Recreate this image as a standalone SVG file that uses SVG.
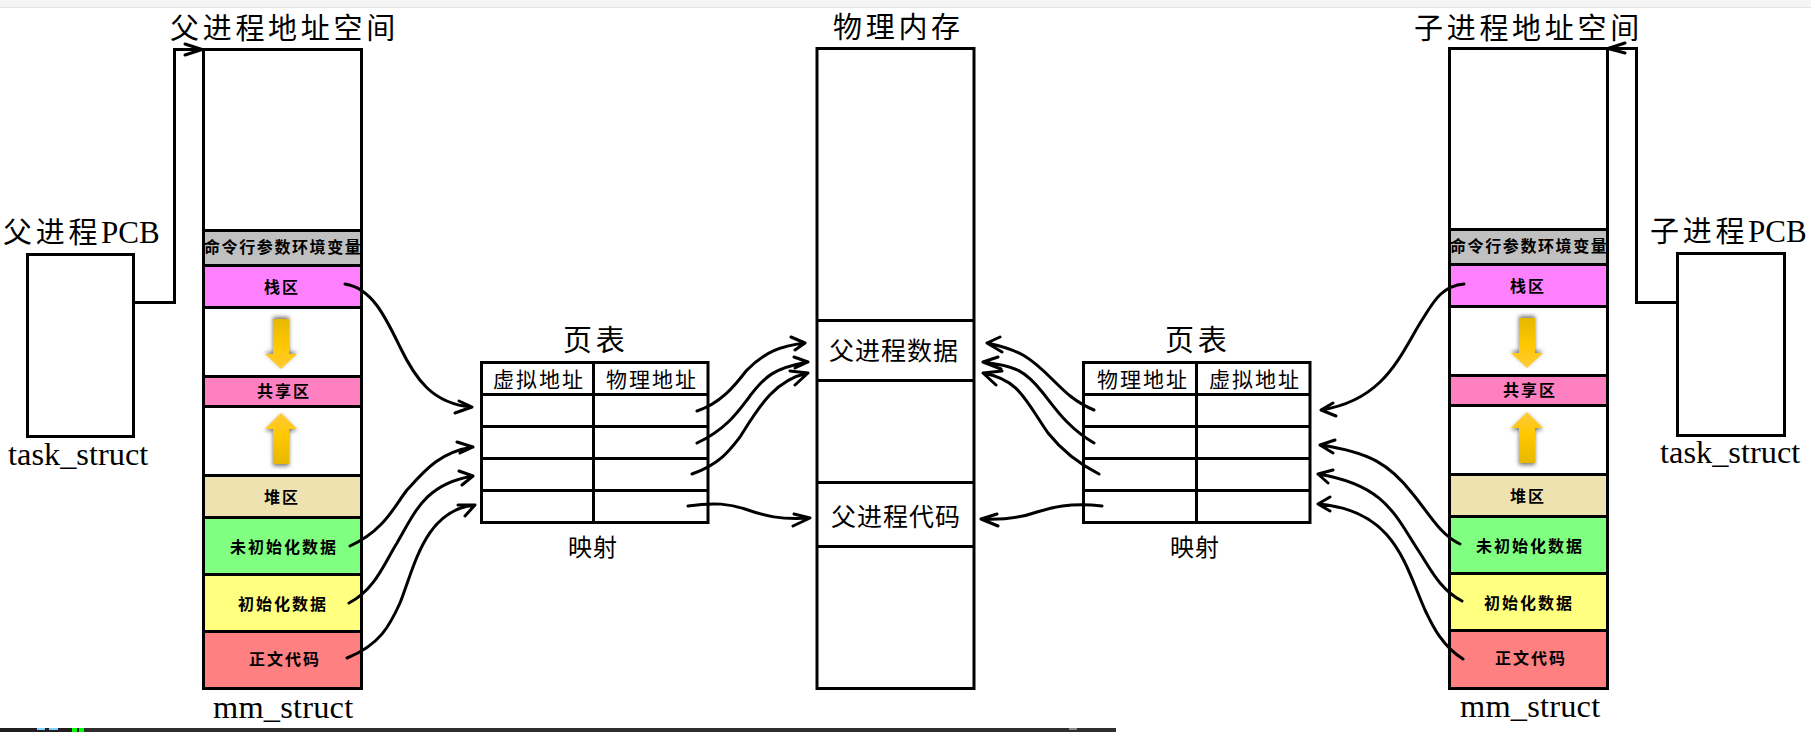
<svg xmlns="http://www.w3.org/2000/svg" width="1811" height="732" viewBox="0 0 1811 732">
<style>
text{fill:#000;font-family:"Noto Sans CJK SC","Liberation Serif",sans-serif}
.box{fill:#fff;stroke:#000;stroke-width:3}
.row{stroke:#000;stroke-width:3}
.ln{stroke:#000;stroke-width:3;fill:none}
.conn{stroke:#000;stroke-width:3;fill:none;stroke-linecap:round;stroke-linejoin:round}
.elbow{stroke:#000;stroke-width:3;fill:none}
.t29{font-size:29px;letter-spacing:3.7px}
.t25{font-size:25px;letter-spacing:1px}
.t24{font-size:24px;letter-spacing:1px}
.t21{font-size:21px;letter-spacing:2px}
.s{font-size:16px;font-weight:700;letter-spacing:2px}
.s9{font-size:16px;font-weight:700;letter-spacing:1.6px}
.lat{font-family:"Liberation Serif",serif;font-size:32.4px;letter-spacing:0}
.mm{font-family:"Liberation Serif",serif;font-size:32.4px;letter-spacing:.2px}
.pcb{font-family:"Liberation Serif",serif;font-size:31px;letter-spacing:0}
.gray{fill:#c0c0c0}.stack{fill:#ff80ff}.share{fill:#ff80c0}.heap{fill:#eee3b0}.bss{fill:#80ff80}.data{fill:#ffff80}.code{fill:#ff8080}
</style>
<defs>
<linearGradient id="gd" x1="0" y1="0" x2="0" y2="1"><stop offset="0" stop-color="#e6b800"/><stop offset=".55" stop-color="#ffc800"/><stop offset="1" stop-color="#ffca3a"/></linearGradient>
<linearGradient id="gu" x1="0" y1="1" x2="0" y2="0"><stop offset="0" stop-color="#e6b800"/><stop offset=".55" stop-color="#ffc800"/><stop offset="1" stop-color="#ffca3a"/></linearGradient>
<filter id="sd" x="-30%" y="-20%" width="160%" height="140%"><feDropShadow dx="0" dy="-2" stdDeviation="2" flood-color="#000" flood-opacity=".55"/></filter>
<filter id="su" x="-30%" y="-20%" width="160%" height="140%"><feDropShadow dx="0" dy="2" stdDeviation="2" flood-color="#000" flood-opacity=".55"/></filter>
</defs>
<rect width="1811" height="732" fill="#fff"/>
<rect width="1811" height="7" fill="#f5f5f5"/>
<rect y="7" width="1811" height="1" fill="#e2e2e2"/>
<g id="terminal-strip">
<rect y="728" width="1116" height="4" fill="#2e2e2e"/>
<rect y="728" width="84" height="4" fill="#1f1f1f"/>
<rect x="37" y="728" width="8" height="2" fill="#7fd0ff"/>
<rect x="49" y="728" width="9" height="2" fill="#7fd0ff"/>
<rect x="72" y="728" width="5" height="4" fill="#00ff00"/>
<rect x="79" y="728" width="5" height="4" fill="#00ff00"/>
<rect x="1069" y="728" width="8" height="2" fill="#8a8a8a"/>
</g>

<g id="parent-pcb">
<rect class="box" x="27.5" y="254.5" width="106" height="182"/>
<text x="3" y="243" class="t29">父进程<tspan class="pcb">PCB</tspan></text>
<text x="8" y="465" class="lat">task_struct</text>
</g>

<g id="parent-space">
<rect class="box" x="203.5" y="49.5" width="158" height="639"/>
<text x="170" y="39" class="t29">父进程地址空间</text>
<rect class="gray row" x="203.5" y="230.5" width="158" height="35"/>
<text x="204" y="253" class="s9">命令行参数环境变量</text>
<rect class="stack row" x="203.5" y="265.5" width="158" height="42"/>
<text x="264" y="293" class="s">栈区</text>
<rect class="share row" x="203.5" y="376.5" width="158" height="30"/>
<text x="257" y="397" class="s">共享区</text>
<rect class="heap row" x="203.5" y="475.5" width="158" height="42"/>
<text x="264" y="503" class="s">堆区</text>
<rect class="bss row" x="203.5" y="517.5" width="158" height="57"/>
<text x="230" y="553" class="s">未初始化数据</text>
<rect class="data row" x="203.5" y="574.5" width="158" height="57"/>
<text x="238" y="610" class="s">初始化数据</text>
<rect class="code row" x="203.5" y="631.5" width="158" height="57"/>
<text x="249" y="665" class="s">正文代码</text>
<path d="M273 319H289V354H297L281 369L265 354H273Z" fill="url(#gd)" filter="url(#sd)"/>
<path d="M273 464H289V429H297L281 413L265 429H273Z" fill="url(#gu)" filter="url(#su)"/>
<text x="213" y="718" class="mm">mm_struct</text>
</g>

<g id="parent-page-table">
<rect class="box" x="481.5" y="362.5" width="226.5" height="160"/>
<path class="ln" d="M481 394.5H708M481 426.5H708M481 458.5H708M481 490.5H708M593.5 362V522"/>
<text x="563" y="351" class="t29">页表</text>
<text x="493" y="387" class="t21">虚拟地址</text>
<text x="606" y="387" class="t21">物理地址</text>
<text x="568" y="556" class="t24">映射</text>
</g>

<g id="physical-memory">
<rect class="box" x="817" y="48.5" width="157" height="640"/>
<path class="ln" d="M817 320.5H974M817 380.5H974M817 482.5H974M817 546.5H974"/>
<text x="833" y="38" class="t29">物理内存</text>
<text x="829" y="360" class="t25">父进程数据</text>
<text x="831" y="526" class="t25">父进程代码</text>
</g>

<g id="child-page-table">
<rect class="box" x="1083.5" y="362.5" width="226.5" height="160"/>
<path class="ln" d="M1083 394.5H1310M1083 426.5H1310M1083 458.5H1310M1083 490.5H1310M1196.5 362V522"/>
<text x="1165" y="351" class="t29">页表</text>
<text x="1097" y="387" class="t21">物理地址</text>
<text x="1209" y="387" class="t21">虚拟地址</text>
<text x="1170" y="556" class="t24">映射</text>
</g>

<g id="child-space">
<rect class="box" x="1449.5" y="48.5" width="158" height="640"/>
<text x="1414" y="39" class="t29">子进程地址空间</text>
<rect class="gray row" x="1449.5" y="229.5" width="158" height="35"/>
<text x="1450" y="252" class="s9">命令行参数环境变量</text>
<rect class="stack row" x="1449.5" y="264.5" width="158" height="42"/>
<text x="1510" y="292" class="s">栈区</text>
<rect class="share row" x="1449.5" y="375.5" width="158" height="30"/>
<text x="1503" y="396" class="s">共享区</text>
<rect class="heap row" x="1449.5" y="474.5" width="158" height="42"/>
<text x="1510" y="502" class="s">堆区</text>
<rect class="bss row" x="1449.5" y="516.5" width="158" height="57"/>
<text x="1476" y="552" class="s">未初始化数据</text>
<rect class="data row" x="1449.5" y="573.5" width="158" height="57"/>
<text x="1484" y="609" class="s">初始化数据</text>
<rect class="code row" x="1449.5" y="630.5" width="158" height="58"/>
<text x="1495" y="664" class="s">正文代码</text>
<path d="M1519 318H1535V353H1543L1527 368L1511 353H1519Z" fill="url(#gd)" filter="url(#sd)"/>
<path d="M1519 463H1535V428H1543L1527 412L1511 428H1519Z" fill="url(#gu)" filter="url(#su)"/>
<text x="1460" y="717" class="mm">mm_struct</text>
</g>

<g id="child-pcb">
<rect class="box" x="1677.5" y="253.5" width="107" height="182"/>
<text x="1650" y="242" class="t29">子进程<tspan class="pcb">PCB</tspan></text>
<text x="1660" y="463" class="lat">task_struct</text>
</g>

<g id="connectors">
<path class="elbow" d="M133 302.5H174.5V49.5H202"/>
<path class="conn" d="M185 44L202 49.5L185 55"/>
<path class="elbow" d="M1677 302.5H1636.5V48.5H1608"/>
<path class="conn" d="M1625 43L1608 48.5L1625 53"/>

<path class="conn" d="M345 284C372 288 386 318 400 347C415 378 432 404 472 407M459 401L472 407L455 413"/>
<path class="conn" d="M350 546C385 530 395 505 407 490C425 470 440 452 473 447M457 442L473 447L460 453"/>
<path class="conn" d="M349 603C375 590 385 562 397 543C415 512 425 484 473 476M459 471L473 476L462 485"/>
<path class="conn" d="M347 658C380 645 390 625 400 603C415 565 425 510 475 505M458 505L475 505L465 516"/>

<path class="conn" d="M697 411C725 402 740 378 747 370C765 352 780 346 805 343M791 337L805 343L795 350"/>
<path class="conn" d="M697 443C725 430 738 412 747 400C765 375 775 368 808 362M794 357L808 362L795 368"/>
<path class="conn" d="M692 474C720 464 730 450 740 437C760 405 775 380 808 373M790 371L808 373L795 385"/>
<path class="conn" d="M688 506C715 502 730 504 745 509C765 516 780 520 810 518M794 514L810 518L793 526"/>

<path class="conn" d="M1094 410C1075 402 1065 392 1053 380C1030 357 1020 350 987 343M1000 337L987 343L1002 352"/>
<path class="conn" d="M1094 443C1068 428 1055 408 1043 393C1025 370 1015 366 983 362M998 357L983 362L1001 369"/>
<path class="conn" d="M1099 474C1075 462 1060 448 1048 433C1025 400 1020 380 983 373M1002 371L983 373L996 385"/>
<path class="conn" d="M1102 506C1070 502 1050 508 1037 512C1020 518 1000 520 981 519M997 514L981 519L998 526"/>

<path class="conn" d="M1464 284C1440 286 1432 305 1422 320C1400 355 1385 400 1321 410M1333 403L1321 410L1336 416"/>
<path class="conn" d="M1460 544C1440 535 1428 512 1412 493C1390 465 1370 452 1320 445M1335 440L1320 445L1333 453"/>
<path class="conn" d="M1462 601C1440 590 1430 568 1418 550C1395 515 1385 485 1318 474M1333 470L1318 474L1328 483"/>
<path class="conn" d="M1463 659C1440 645 1430 620 1425 610C1405 565 1395 510 1318 504M1330 497L1318 504L1330 511"/>
</g>
</svg>
